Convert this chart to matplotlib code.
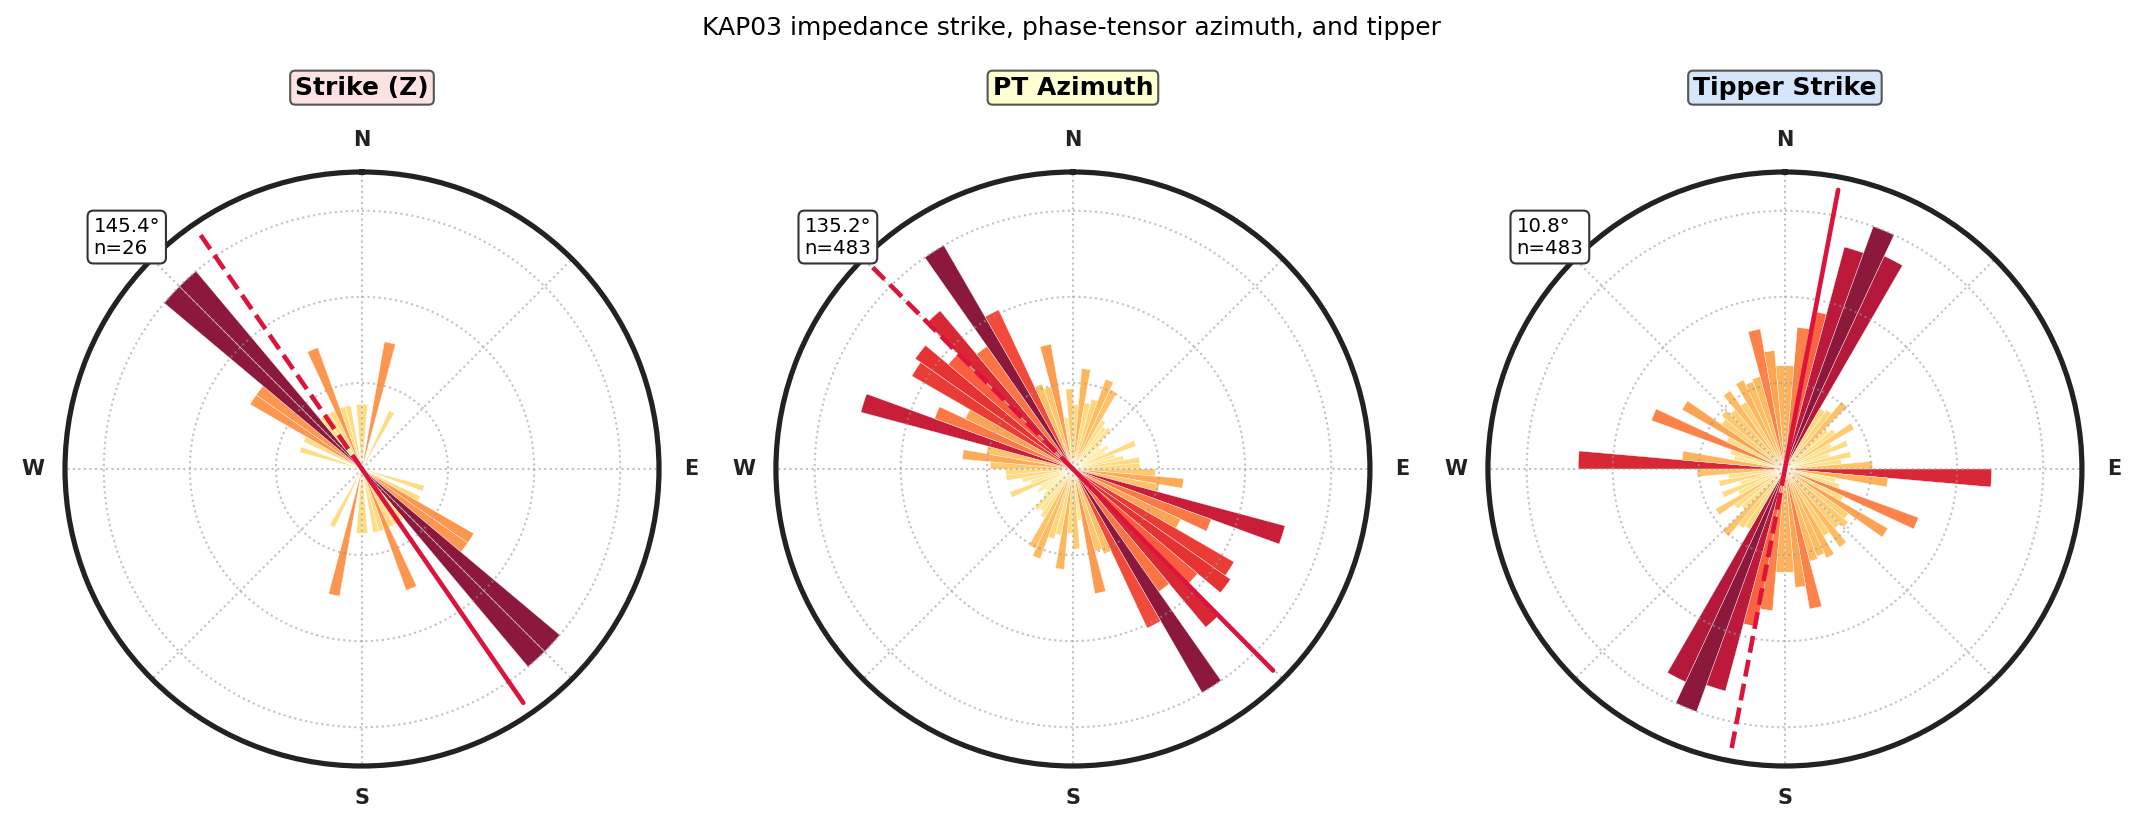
import numpy as np
import matplotlib
matplotlib.use("Agg")
import matplotlib.pyplot as plt

# 5 degree bins over 0-180, each bin is mirrored at +180
bin_start_deg = np.arange(0, 180, 5)

# Strike (Z): counts per bin (n=26)
strike_z_counts = [1, 0, 2, 0, 0, 1, 0, 0, 0, 0, 0, 0, 0, 0, 0, 0, 0, 0,
                   0, 0, 0, 1, 0, 1, 2, 2, 4, 4, 1, 1, 1, 2, 1, 1, 0, 1]
# PT azimuth and tipper strike: bar length relative to the longest bin
pt_azimuth_rel = [0.25, 0.39, 0.26, 0.28, 0.37, 0.34, 0.22, 0.20, 0.21,
                  0.15, 0.13, 0.16, 0.14, 0.26, 0.17, 0.20, 0.26, 0.26,
                  0.32, 0.43, 0.34, 0.85, 0.57, 0.46, 0.72, 0.745, 0.63,
                  0.80, 0.58, 1.00, 0.68, 0.35, 0.33, 0.49, 0.20, 0.31]
tipper_rel = [0.40, 0.55, 0.62, 0.89, 1.00, 0.91, 0.27, 0.28, 0.34,
              0.22, 0.24, 0.31, 0.20, 0.26, 0.18, 0.26, 0.22, 0.34,
              0.80, 0.40, 0.20, 0.22, 0.55, 0.25, 0.46, 0.30, 0.32,
              0.30, 0.37, 0.30, 0.38, 0.36, 0.37, 0.55, 0.46, 0.40]

titles = ['Strike (Z)', 'PT Azimuth', 'Tipper Strike']
title_colors = ['#fde2e2', '#ffffd0', '#d6e6fa']
mean_angles = [145.4, 135.2, 10.8]
n_values = [26, 483, 483]
panel_data = [strike_z_counts, pt_azimuth_rel, tipper_rel]

fig = plt.figure(figsize=(14.28, 5.54), dpi=150)
fig.suptitle('KAP03 impedance strike, phase-tensor azimuth, and tipper',
             fontsize=12, y=0.966, va='center')

centers_x = [0.1690, 0.5009, 0.8333]
w = 594 / 2142
h = 594 / 831
cy = 1 - 469 / 831

cmap = plt.cm.YlOrRd
width = np.radians(5)

for i in range(3):
    ax = fig.add_axes([centers_x[i] - w / 2, cy - h / 2, w, h], projection='polar')
    ax.set_theta_zero_location('N')
    ax.set_theta_direction(-1)

    vals = np.array(panel_data[i], dtype=float)
    rel = vals / vals.max()
    theta = np.radians(bin_start_deg + 2.5)
    theta_all = np.concatenate([theta, theta + np.pi])
    rel_all = np.concatenate([rel, rel])
    keep = rel_all > 0
    ax.bar(theta_all[keep], rel_all[keep], width=width, bottom=0,
           color=cmap(rel_all[keep]), edgecolor='white', linewidth=0.2, alpha=0.9)

    a = np.radians(mean_angles[i])
    ax.plot([0, a], [0, 1.1], color='crimson', lw=2.2, solid_capstyle='round')
    ax.plot([0, a + np.pi], [0, 1.1], color='crimson', lw=2.2, ls='--')

    ax.set_ylim(0, 1.15)
    ax.set_yticks([1 / 3, 2 / 3, 1.0])
    ax.set_yticklabels([])
    ax.set_xticks(np.radians(np.arange(0, 360, 45)))
    ax.set_xticklabels(['N', '', 'E', '', 'S', '', 'W', ''],
                       fontsize=10, fontweight='bold', color='#222222')
    ax.tick_params(axis='x', pad=5)
    ax.grid(True, color='#999999', alpha=0.6, linestyle=':', linewidth=1)
    ax.spines['polar'].set_linewidth(2.5)
    ax.spines['polar'].set_color('#222222')

    ax.set_title(titles[i], fontsize=12, fontweight='bold', y=1.142, pad=0,
                 va='center',
                 bbox=dict(boxstyle='round,pad=0.2', facecolor=title_colors[i],
                           edgecolor='#555555', linewidth=1))

    ax.text(0.048, 0.925, '%.1f°\nn=%d' % (mean_angles[i], n_values[i]),
            transform=ax.transAxes, fontsize=9.5, va='top', ha='left',
            bbox=dict(boxstyle='round,pad=0.3', facecolor='white',
                      edgecolor='#333333', linewidth=1))

fig.savefig('out.png', dpi=150)
